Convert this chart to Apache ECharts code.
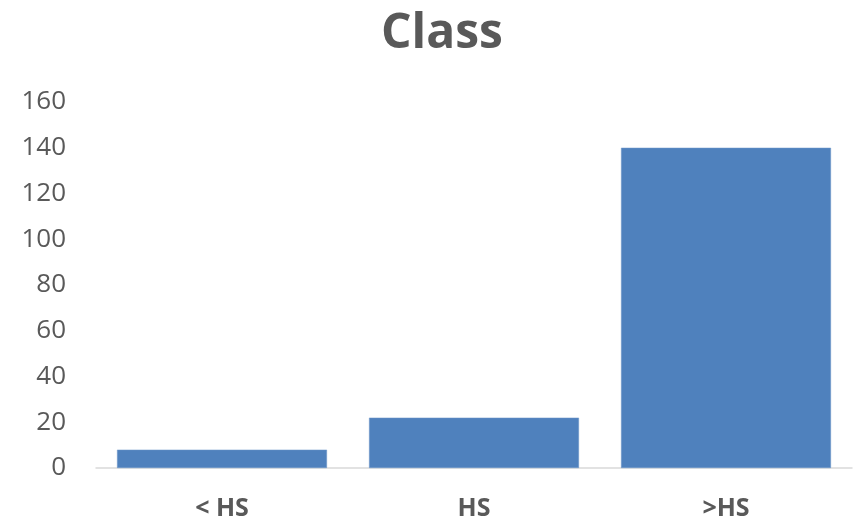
<!DOCTYPE html>
<html>
<head>
<meta charset="utf-8">
<script src="https://cdn.jsdelivr.net/npm/echarts@6/dist/echarts.min.js"></script>
<style>
  html, body { margin: 0; padding: 0; background: #ffffff; }
  #chart { width: 856px; height: 524px; }
</style>
</head>
<body>
<div id="chart"></div>
<script>
// Education level groups and their counts
const categories = ['< HS', 'HS', '>HS'];
const counts = [8, 22, 140];
const yTicks = { min: 0, max: 160, interval: 20 };

const chart = echarts.init(document.getElementById('chart'), null, { renderer: 'canvas' });

chart.setOption({
  animation: false,
  backgroundColor: '#ffffff',
  title: {
    text: 'Class',
    left: 437,
    top: 5,
    textAlign: 'center',
    textStyle: {
      fontFamily: 'Open Sans',
      fontWeight: 'bold',
      fontSize: 48,
      color: '#595959'
    }
  },
  grid: {
    left: 96,
    right: 4,
    top: 102,
    bottom: 56,
    containLabel: false
  },
  xAxis: {
    type: 'category',
    data: categories,
    axisLine: { show: true, lineStyle: { color: '#d9d9d9', width: 1.5 } },
    axisTick: { show: false },
    axisLabel: {
      margin: 28,
      fontFamily: 'Open Sans',
      fontWeight: 'bold',
      fontSize: 25,
      color: '#595959'
    }
  },
  yAxis: {
    type: 'value',
    min: yTicks.min,
    max: yTicks.max,
    interval: yTicks.interval,
    axisLine: { show: false },
    axisTick: { show: false },
    splitLine: { show: false },
    axisLabel: {
      margin: 30,
      fontFamily: 'Open Sans',
      fontSize: 26,
      color: '#595959'
    }
  },
  series: [{
    type: 'bar',
    data: counts,
    barCategoryGap: '16.7%',
    itemStyle: {
      color: '#4f81bd',
      borderColor: '#6f97c9',
      borderWidth: 0.5
    }
  }]
});
</script>
</body>
</html>
